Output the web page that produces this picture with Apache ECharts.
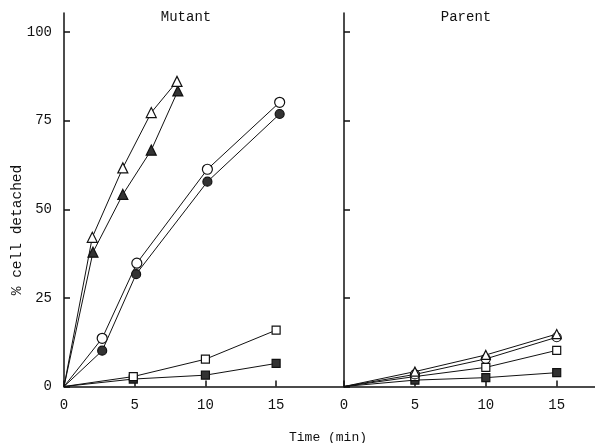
<!DOCTYPE html>
<html><head><meta charset="utf-8">
<script src="https://cdn.jsdelivr.net/npm/echarts@6/dist/echarts.min.js"></script>
<style>html,body{margin:0;padding:0;background:#fff}#c{width:595px;height:443px}</style>
</head><body><div id="c"></div>
<script>
// Mutant panel [time (min), % detached]
const mutOpenTri  = [[0,0],[2.0,42.1],[4.16,61.7],[6.17,77.3],[7.99,86.1]];
const mutFillTri  = [[0,0],[2.05,37.9],[4.16,54.2],[6.17,66.7],[8.05,83.4]];
const mutOpenCirc = [[0,0],[2.7,13.6],[5.15,34.8],[10.14,61.3],[15.25,80.2]];
const mutFillCirc = [[0,0],[2.7,10.1],[5.1,31.7],[10.14,57.8],[15.25,76.9]];
const mutOpenSq   = [[0,0],[4.9,2.8],[10.0,7.7],[15.0,15.9]];
const mutFillSq   = [[0,0],[4.9,2.1],[10.0,3.2],[15.0,6.5]];
// Parent panel
const parOpenTri  = [[0,0],[5,4.2],[10,8.9],[15,14.8]];
const parOpenCirc = [[0,0],[5,3.4],[10,7.8],[15,13.9]];
const parOpenSq   = [[0,0],[5,2.8],[10,5.4],[15,10.2]];
const parFillSq   = [[0,0],[5,1.8],[10,2.5],[15,3.9]];
const yTicks = [0,25,50,75,100];
const xTicks = [0,5,10,15];
const panelTitles = ['Mutant','Parent'];
const yTitle = '% cell detached';
const xTitle = 'Time (min)';

const FONT = 'Liberation Mono';
const ink = '#111';
const fill = '#333';

function ser(name, data, gi, symbol, size, filled){
  return {
    name, type:'line', xAxisIndex:gi, yAxisIndex:gi,
    data: data.map((p,i)=> i===0 ? {value:p, symbolSize:0} : {value:p}),
    symbol, symbolSize:size, showAllSymbol:true,
    lineStyle:{color:ink,width:1},
    itemStyle:{color: filled?fill:'#fff', borderColor:ink, borderWidth:1.2},
    emphasis:{disabled:true}, animation:false
  };
}
const line = {show:true,onZero:false,lineStyle:{color:ink,width:1.5}};
function tick(vals){ return {show:true,inside:true,length:6,customValues:vals,lineStyle:{color:ink,width:1.5}}; }
function lab(vals){ return {show:true,customValues:vals,fontFamily:FONT,fontSize:14,color:ink,margin:12}; }

const opt = {
  backgroundColor:'#fff',
  animation:false,
  grid:[
    {left:64,top:13,width:280,bottom:56.5},
    {left:344,top:13,right:0,bottom:56.5}
  ],
  xAxis:[
    {type:'value',gridIndex:0,min:0,max:19.8,interval:5,axisLine:line,axisTick:tick(xTicks),axisLabel:lab(xTicks),splitLine:{show:false}},
    {type:'value',gridIndex:1,min:0,max:17.7,interval:5,axisLine:line,axisTick:tick(xTicks),axisLabel:lab(xTicks),splitLine:{show:false}}
  ],
  yAxis:[
    {type:'value',gridIndex:0,min:0,max:105.4,interval:25,axisLine:line,axisTick:tick(yTicks),axisLabel:lab(yTicks),splitLine:{show:false}},
    {type:'value',gridIndex:1,min:0,max:105.4,interval:25,axisLine:line,axisTick:tick(yTicks),axisLabel:{show:false},splitLine:{show:false}}
  ],
  graphic:[
    {type:'text',x:186,y:17,style:{text:panelTitles[0],font:'14px '+FONT,fill:ink,textAlign:'center',textVerticalAlign:'middle'}},
    {type:'text',x:466,y:17,style:{text:panelTitles[1],font:'14px '+FONT,fill:ink,textAlign:'center',textVerticalAlign:'middle'}},
    {type:'text',x:328,y:438,style:{text:xTitle,font:'13px '+FONT,fill:ink,textAlign:'center',textVerticalAlign:'middle'}},
    {type:'text',x:17,y:230,rotation:Math.PI/2,style:{text:yTitle,font:'14.5px '+FONT,fill:ink,textAlign:'center',textVerticalAlign:'middle'}}
  ],
  series:[
    ser('mutFillTri',mutFillTri,0,'triangle',10,true),
    ser('mutOpenTri',mutOpenTri,0,'triangle',10,false),
    ser('mutFillCirc',mutFillCirc,0,'circle',9,true),
    ser('mutOpenCirc',mutOpenCirc,0,'circle',10,false),
    ser('mutFillSq',mutFillSq,0,'rect',8,true),
    ser('mutOpenSq',mutOpenSq,0,'rect',8,false),
    ser('parFillSq',parFillSq,1,'rect',8,true),
    ser('parOpenSq',parOpenSq,1,'rect',8,false),
    ser('parOpenCirc',parOpenCirc,1,'circle',9,false),
    ser('parOpenTri',parOpenTri,1,'triangle',9,false)
  ]
};
const chart = echarts.init(document.getElementById('c'),null,{renderer:'canvas'});
chart.setOption(opt);
</script></body></html>
